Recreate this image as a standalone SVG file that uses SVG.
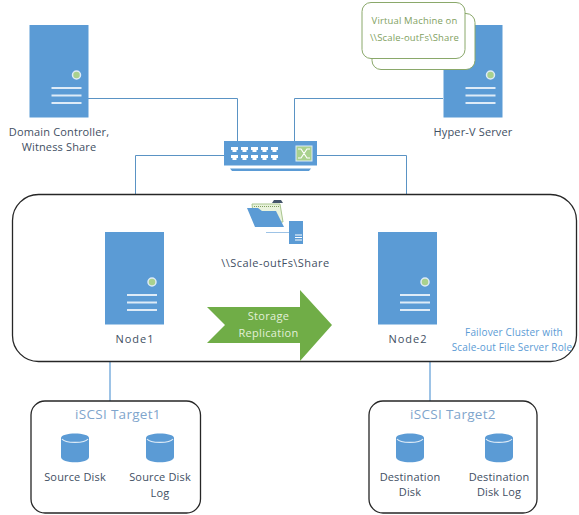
<svg xmlns="http://www.w3.org/2000/svg" width="579" height="515" viewBox="0 0 579 515">
<defs>
<style>
text{font-family:"Open Sans","Noto Sans","Liberation Sans",sans-serif;font-size:11px;fill:#3f4f63;text-anchor:middle;letter-spacing:.15px}
.srv{fill:#5b9bd5}.bar{fill:none;stroke:#deebf7;stroke-width:2}
.led{fill:#a9d18e;stroke:#deebf7;stroke-width:1.5}
.ln{fill:none;stroke:#5a93c4;stroke-width:1}
.ln2{fill:none;stroke:#9dc3e6;stroke-width:2}
.box{fill:#fff;stroke:#262626;stroke-width:1.3}
.vm{fill:#fff;stroke:#8aa86a;stroke-width:1}
.disk{fill:#5b9bd5}
.port{fill:#fff}
.note{fill:#5b9bd5;font-size:10px}
.vmt{fill:#7f9f5f;font-size:9.500px}
.rep{fill:#e2f0d9;letter-spacing:.3px}
.tgt{fill:#7fa5cc;font-size:13.500px;letter-spacing:.3px}
.nd{letter-spacing:1px}
</style>
<g id="server"><rect class="srv" width="59" height="92.500"/><circle class="led" cx="47" cy="50" r="4"/><path class="bar" d="M22 63H52M22 70.500H52M22 78H52"/></g>
<g id="cyl"><path class="disk" d="M0 6C0 0 28 0 28 6V25C28 32 0 32 0 25Z"/><path d="M1 7C4 11.500 24 11.500 27 7" fill="none" stroke="#deebf7" stroke-width="1.200"/></g>
<path id="port" class="port" d="M0 0H7V3H5.500V5H1.500V3H0Z"/>
</defs>
<rect width="579" height="515" fill="#fff"/>
<g id="connectors">
<path class="ln" d="M88 98.500H237.500V141M443 98.500H294.500V141M224 155.500H135.500V232M317 155.500H406.500V232"/>
<path class="ln2" d="M110 324V401M430 324V401"/>
</g>
<g id="cluster"><rect class="box" x="12.500" y="194.500" width="564" height="167" rx="26"/>
<text class="note" x="514" y="336">Failover Cluster with</text>
<text class="note" x="512" y="351">Scale-out File Server Role</text></g>
<g id="domain-controller"><use href="#server" x="29.500" y="25"/><text x="59" y="136">Domain Controller,</text><text x="59" y="151">Witness Share</text></g>
<g id="hyperv-server"><use href="#server" x="443.500" y="25"/><text x="473" y="136">Hyper-V Server</text></g>
<g id="virtual-machine">
<rect class="vm" x="372" y="13.500" width="103" height="56" rx="9"/>
<rect class="vm" x="362" y="2.500" width="103" height="56" rx="9"/>
<text class="vmt" x="414.500" y="24">Virtual Machine on</text>
<text class="vmt" x="414.500" y="41">\\Scale-outFs\Share</text></g>
<g id="switch"><rect x="224" y="141" width="93" height="24.500" fill="#5b9bd5"/>
<path d="M230 168.500H311L309 171H232Z" fill="#5b9bd5"/>
<use href="#port" x="231" y="147"/><use href="#port" x="241" y="147"/><use href="#port" x="251" y="147"/><use href="#port" x="261" y="147"/><use href="#port" x="271" y="147"/>
<use href="#port" x="231" y="155"/><use href="#port" x="241" y="155"/><use href="#port" x="251" y="155"/><use href="#port" x="261" y="155"/><use href="#port" x="271" y="155"/>
<rect x="296" y="146" width="16" height="15" fill="#a9d18e" stroke="#deebf7" stroke-width="1"/>
<path d="M298 149H301L307 158H310M298 158H301L307 149H310" fill="none" stroke="#fff" stroke-width="1.200"/></g>
<g id="share">
<path d="M272 203L274 200H281L283 203Z" fill="#44546a"/>
<path d="M252 204H280L283 222H254Z" fill="#e9f2dc" stroke="#a9c58e" stroke-width="1"/>
<path d="M254 206.500H279" stroke="#7f9f5f" stroke-width="1" stroke-dasharray="1 1" fill="none"/>
<path d="M247 208H258L262 211H276L284 227H255Z" fill="#5b9bd5"/>
<path d="M266 232.500H289" stroke="#9dc3e6" stroke-width="1" fill="none"/>
<rect x="289" y="221" width="14" height="23" fill="#5b9bd5"/>
<path d="M295 235H302M295 237.500H302M295 240H302" stroke="#fff" stroke-width="1" fill="none"/>
<text x="275.500" y="267" style="letter-spacing:.45px">\\Scale-outFs\Share</text></g>
<g id="node1"><use href="#server" x="105" y="232"/><text class="nd" x="135" y="343">Node1</text></g>
<g id="node2"><use href="#server" x="378" y="232"/><text class="nd" x="408" y="343">Node2</text></g>
<g id="replication"><path d="M207 307H300V290L332 325L300 361V343H207L225 325Z" fill="#70ad47"/>
<text class="rep" x="268.500" y="320">Storage</text><text class="rep" x="268.500" y="337">Replication</text></g>
<g id="target1"><rect class="box" x="31" y="401" width="169.500" height="112" rx="14"/>
<text class="tgt" x="118" y="419">iSCSI Target1</text>
<use href="#cyl" x="61" y="432"/><use href="#cyl" x="146" y="432"/>
<text x="75" y="481">Source Disk</text><text x="160" y="481">Source Disk</text><text x="160" y="497">Log</text></g>
<g id="target2"><rect class="box" x="369" y="401" width="168" height="112" rx="14"/>
<text class="tgt" x="453" y="419">iSCSI Target2</text>
<use href="#cyl" x="396" y="432"/><use href="#cyl" x="485" y="432"/>
<text x="410" y="481">Destination</text><text x="410" y="496">Disk</text><text x="499" y="481">Destination</text><text x="499" y="496">Disk Log</text></g>
</svg>
